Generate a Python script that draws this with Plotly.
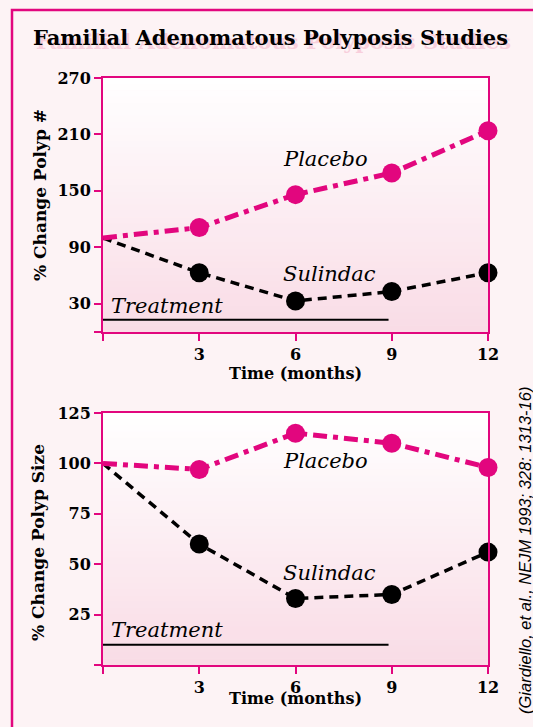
import plotly.graph_objects as go

# ---- data ----
months = [0, 3, 6, 9, 12]
x_ticks = [0, 3, 6, 9, 12]
x_ticktext = ["", "3", "6", "9", "12"]

number_placebo = [100, 111, 146, 169, 214]
number_sulindac = [100, 63, 33, 43, 63]
number_yticks = [0, 30, 90, 150, 210, 270]
number_yticktext = ["", "30", "90", "150", "210", "270"]

size_placebo = [100, 97, 115, 110, 98]
size_sulindac = [100, 60, 33, 35, 56]
size_yticks = [0, 25, 50, 75, 100, 125]
size_yticktext = ["", "25", "50", "75", "100", "125"]

treatment_months = [0, 8.9]
treatment_number = [13, 13]
treatment_size = [10, 10]

PINK = "#e2067e"
BG = "#fdf3f5"
SERIF = "DejaVu Serif"

fig = go.Figure()

def add_panel(xa, ya, placebo, sulindac, treat):
    fig.add_trace(go.Scatter(x=treatment_months, y=treat, mode="lines",
                             line=dict(color="black", width=2),
                             xaxis=xa, yaxis=ya, showlegend=False, hoverinfo="skip"))
    fig.add_trace(go.Scatter(x=months, y=sulindac, mode="lines",
                             line=dict(color="black", width=3.5, dash="9px,6px"),
                             xaxis=xa, yaxis=ya, showlegend=False, cliponaxis=False))
    fig.add_trace(go.Scatter(x=months[1:], y=sulindac[1:], mode="markers",
                             marker=dict(color="black", size=19),
                             xaxis=xa, yaxis=ya, showlegend=False, cliponaxis=False))
    fig.add_trace(go.Scatter(x=months, y=placebo, mode="lines",
                             line=dict(color=PINK, width=5, dash="14px,6px,5px,6px"),
                             xaxis=xa, yaxis=ya, showlegend=False, cliponaxis=False))
    fig.add_trace(go.Scatter(x=months[1:], y=placebo[1:], mode="markers",
                             marker=dict(color=PINK, size=19),
                             xaxis=xa, yaxis=ya, showlegend=False, cliponaxis=False))

add_panel("x", "y", number_placebo, number_sulindac, treatment_number)
add_panel("x2", "y2", size_placebo, size_sulindac, treatment_size)

axis_common = dict(showline=True, linecolor=PINK, linewidth=2, mirror=True,
                   ticks="outside", ticklen=7, tickwidth=2, tickcolor=PINK,
                   showgrid=False, zeroline=False,
                   tickfont=dict(family=SERIF, size=16, color="black", weight="bold"))

fig.update_layout(
    width=533, height=727,
    margin=dict(l=103, r=45, t=78, b=62),
    paper_bgcolor=BG, plot_bgcolor="rgba(0,0,0,0)",
    xaxis=dict(domain=[0, 1], range=[0, 12], tickvals=x_ticks, ticktext=x_ticktext,
               anchor="y", **axis_common),
    yaxis=dict(domain=[0.5673, 1], range=[0, 270], tickvals=number_yticks,
               ticktext=number_yticktext, anchor="x", **axis_common),
    xaxis2=dict(domain=[0, 1], range=[0, 12], tickvals=x_ticks, ticktext=x_ticktext,
                anchor="y2", **axis_common),
    yaxis2=dict(domain=[0, 0.4293], range=[0, 125], tickvals=size_yticks,
                ticktext=size_yticktext, anchor="x2", **axis_common),
)

# gradient backgrounds for plot areas
def lerp(c1, c2, t):
    return "#%02x%02x%02x" % tuple(int(round(a + (b - a) * t)) for a, b in zip(c1, c2))

top_c = (255, 255, 255)
bot_c = (249, 220, 230)
shapes = []
N = 40
for xr, yr in (("x domain", "y domain"), ("x2 domain", "y2 domain")):
    for i in range(N):
        t = i / (N - 1)
        shapes.append(dict(type="rect", xref=xr, yref=yr, x0=0, x1=1,
                           y0=1 - (i + 1) / N, y1=1 - i / N + 0.002,
                           fillcolor=lerp(top_c, bot_c, t), line=dict(width=0),
                           layer="below"))
# outer border
shapes.append(dict(type="rect", xref="paper", yref="paper",
                   x0=(12 - 103) / 385, x1=(560 - 103) / 385,
                   y0=(665 - 760) / 587, y1=(665 - 10) / 587,
                   line=dict(color=PINK, width=2.5), fillcolor="rgba(0,0,0,0)",
                   layer="below"))
fig.update_layout(shapes=shapes)

def px(x):
    return (x - 103) / 385

def py(y):
    return (665 - y) / 587

C = dict(xanchor="center", yanchor="middle", showarrow=False)
ann = []
title = "Familial Adenomatous Polyposis Studies"
ann.append(dict(text=title, xref="paper", yref="paper", x=px(273), y=py(41), **C,
                font=dict(family=SERIF, size=21, color="#f8cfdc", weight="bold")))
ann.append(dict(text=title, xref="paper", yref="paper", x=px(270), y=py(38), **C,
                font=dict(family=SERIF, size=21, color="black", weight="bold")))
ann.append(dict(text="% Change Polyp #", xref="paper", yref="paper", x=px(40), y=py(195),
                textangle=-90, **C,
                font=dict(family=SERIF, size=17, color="black", weight="bold")))
ann.append(dict(text="% Change Polyp Size", xref="paper", yref="paper", x=px(38), y=py(543),
                textangle=-90, **C,
                font=dict(family=SERIF, size=17, color="black", weight="bold")))
ann.append(dict(text="Time (months)", xref="paper", yref="paper", x=px(295), y=py(373), **C,
                font=dict(family=SERIF, size=16, color="black", weight="bold")))
ann.append(dict(text="Time (months)", xref="paper", yref="paper", x=px(295), y=py(698), **C,
                font=dict(family=SERIF, size=16, color="black", weight="bold")))
ann.append(dict(text="<i>(Giardiello, et al., NEJM 1993; 328: 1313-16)</i>", xref="paper",
                yref="paper", x=px(525), y=py(551), textangle=-90, **C,
                font=dict(family="Liberation Sans", size=16.5, color="black")))

lab_font = dict(family=SERIF, size=21, color="black", style="italic")
for xr, yr, items in (("x", "y", [("Placebo", 6.92, 184), ("Sulindac", 7.07, 62)]),
                      ("x2", "y2", [("Placebo", 6.92, 101), ("Sulindac", 7.07, 45.6)])):
    for txt, xx, yy in items:
        ann.append(dict(text=txt, xref=xr, yref=yr, x=xx, y=yy, **C, font=lab_font))
ann.append(dict(text="Treatment", xref="x", yref="y", x=0.2, y=28, xanchor="left",
                yanchor="middle", showarrow=False, font=lab_font))
ann.append(dict(text="Treatment", xref="x2", yref="y2", x=0.2, y=17.4, xanchor="left",
                yanchor="middle", showarrow=False, font=lab_font))
fig.update_layout(annotations=ann)

fig.write_html("out.html", config={"displayModeBar": False},
               post_script="document.body.style.margin='0';document.body.style.overflow='hidden';")
